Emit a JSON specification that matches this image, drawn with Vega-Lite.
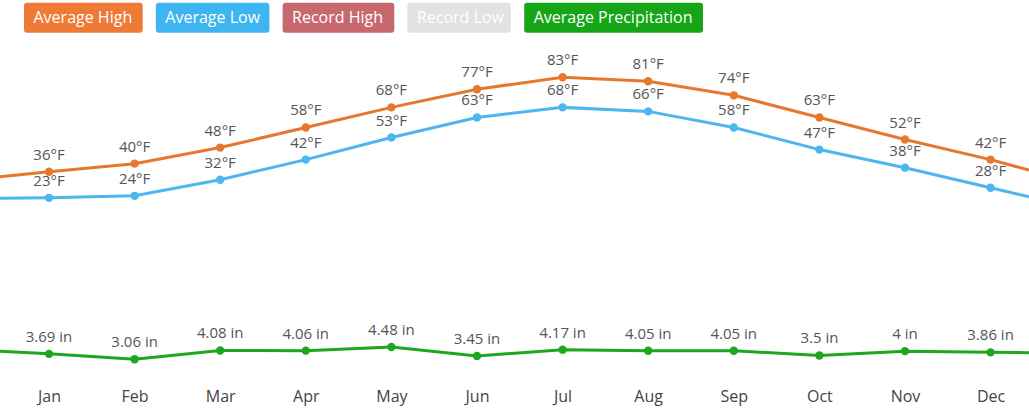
{
  "$schema": "https://vega.github.io/schema/vega-lite/v6.json",
  "width": 1029,
  "height": 375,
  "autosize": {"type": "none"},
  "padding": {"left": 0, "top": 0, "right": 0, "bottom": 38},
  "background": "white",
  "config": {"view": {"stroke": null}, "font": "Open Sans"},
  "datasets": {
    "months": [
      {"m": 0.4276, "high": 33.5, "low": 22.8, "precip": 3.98},
      {"m": 1, "month": "Jan", "high": 36, "low": 23, "precip": 3.69},
      {"m": 2, "month": "Feb", "high": 40, "low": 24, "precip": 3.06},
      {"m": 3, "month": "Mar", "high": 48, "low": 32, "precip": 4.08},
      {"m": 4, "month": "Apr", "high": 58, "low": 42, "precip": 4.06},
      {"m": 5, "month": "May", "high": 68, "low": 53, "precip": 4.48},
      {"m": 6, "month": "Jun", "high": 77, "low": 63, "precip": 3.45},
      {"m": 7, "month": "Jul", "high": 83, "low": 68, "precip": 4.17},
      {"m": 8, "month": "Aug", "high": 81, "low": 66, "precip": 4.05},
      {"m": 9, "month": "Sep", "high": 74, "low": 58, "precip": 4.05},
      {"m": 10, "month": "Oct", "high": 63, "low": 47, "precip": 3.5},
      {"m": 11, "month": "Nov", "high": 52, "low": 38, "precip": 4},
      {"m": 12, "month": "Dec", "high": 42, "low": 28, "precip": 3.86},
      {"m": 12.449, "high": 36.8, "low": 23.5, "precip": 3.82}
    ],
    "series": [
      {"series": "Average High"},
      {"series": "Average Low"},
      {"series": "Record High"},
      {"series": "Record Low"},
      {"series": "Average Precipitation"}
    ]
  },
  "data": {"name": "months"},
  "encoding": {
    "x": {
      "field": "m",
      "type": "quantitative",
      "scale": {"domain": [0.4276, 12.449], "nice": false, "zero": false},
      "axis": {
        "values": [1, 2, 3, 4, 5, 6, 7, 8, 9, 10, 11, 12],
        "labelExpr": "['Jan','Feb','Mar','Apr','May','Jun','Jul','Aug','Sep','Oct','Nov','Dec'][datum.value - 1]",
        "domain": false,
        "ticks": false,
        "tickSize": 0,
        "grid": false,
        "labelPadding": 13,
        "labelFontSize": 16,
        "labelColor": "#444444",
        "labelFont": "Open Sans",
        "labelBaseline": "top",
        "labelFlush": false,
        "labelOverlap": false,
        "title": null
      }
    }
  },
  "layer": [
    {
      "data": {"name": "series"},
      "transform": [{"filter": "false"}],
      "mark": {"type": "point", "filled": true, "opacity": 1},
      "encoding": {
        "color": {
          "field": "series",
          "type": "nominal",
          "scale": {
            "domain": ["Average High", "Average Low", "Record High", "Record Low", "Average Precipitation"],
            "range": ["#EE7A35", "#3DB5F1", "#C7686F", "#E2E2E2", "#16A516"]
          },
          "legend": {
            "orient": "none", "legendX": 24, "legendY": 2.7, "direction": "horizontal", "title": null,
            "symbolSize": 900, "symbolStrokeWidth": 0, "symbolOffset": 0, "labelOffset": -20.5,
            "labelFont": "Open Sans", "labelFontSize": 16, "labelColor": "white", "labelLimit": 400,
            "columnPadding": 12.8, "padding": 0, "symbolOpacity": 1
          }
        },
        "shape": {
          "field": "series",
          "type": "nominal",
          "scale": {
            "domain": ["Average High", "Average Low", "Record High", "Record Low", "Average Precipitation"],
            "range": [
              "M-0.8,-1H6.713Q6.913,-1 6.913,-0.8V0.8Q6.913,1 6.713,1H-0.8Q-1,1 -1,0.8V-0.8Q-1,-1 -0.8,-1Z",
              "M-0.8,-1H6.373Q6.573,-1 6.573,-0.8V0.8Q6.573,1 6.373,1H-0.8Q-1,1 -1,0.8V-0.8Q-1,-1 -0.8,-1Z",
              "M-0.8,-1H6.247Q6.447,-1 6.447,-0.8V0.8Q6.447,1 6.247,1H-0.8Q-1,1 -1,0.8V-0.8Q-1,-1 -0.8,-1Z",
              "M-0.8,-1H5.693Q5.893,-1 5.893,-0.8V0.8Q5.893,1 5.693,1H-0.8Q-1,1 -1,0.8V-0.8Q-1,-1 -0.8,-1Z",
              "M-0.8,-1H10.72Q10.92,-1 10.92,-0.8V0.8Q10.92,1 10.72,1H-0.8Q-1,1 -1,0.8V-0.8Q-1,-1 -0.8,-1Z"
            ]
          },
          "legend": {
            "orient": "none", "legendX": 24, "legendY": 2.7, "direction": "horizontal", "title": null,
            "symbolSize": 900, "symbolStrokeWidth": 0, "symbolOffset": 0, "labelOffset": -20.5,
            "labelFont": "Open Sans", "labelFontSize": 16, "labelColor": "white", "labelLimit": 400,
            "columnPadding": 12.8, "padding": 0, "symbolOpacity": 1
          }
        }
      }
    },
    {
      "mark": {"type": "line", "color": "#4DB6EF", "strokeWidth": 3, "clip": true},
      "encoding": {"y": {"field": "low", "type": "quantitative", "scale": {"domain": [-65.14, 121.42], "nice": false, "zero": false}, "axis": null}}
    },
    {
      "mark": {"type": "line", "color": "#E8772E", "strokeWidth": 3, "clip": true},
      "encoding": {"y": {"field": "high", "type": "quantitative", "scale": {"domain": [-65.14, 121.42], "nice": false, "zero": false}, "axis": null}}
    },
    {
      "mark": {"type": "line", "color": "#1EA61E", "strokeWidth": 3, "clip": true},
      "encoding": {"y": {"field": "precip", "type": "quantitative", "scale": {"domain": [1.247, 44.55], "nice": false, "zero": false}, "axis": null}}
    },
    {
      "transform": [{"filter": "isValid(datum.month)"}],
      "mark": {"type": "point", "filled": true, "opacity": 1, "size": 70, "color": "#4DB6EF"},
      "encoding": {"y": {"field": "low", "type": "quantitative", "scale": {"domain": [-65.14, 121.42], "nice": false, "zero": false}, "axis": null}}
    },
    {
      "transform": [{"filter": "isValid(datum.month)"}],
      "mark": {"type": "point", "filled": true, "opacity": 1, "size": 70, "color": "#E8772E"},
      "encoding": {"y": {"field": "high", "type": "quantitative", "scale": {"domain": [-65.14, 121.42], "nice": false, "zero": false}, "axis": null}}
    },
    {
      "transform": [{"filter": "isValid(datum.month)"}],
      "mark": {"type": "point", "filled": true, "opacity": 1, "size": 70, "color": "#1EA61E"},
      "encoding": {"y": {"field": "precip", "type": "quantitative", "scale": {"domain": [1.247, 44.55], "nice": false, "zero": false}, "axis": null}}
    },
    {
      "transform": [{"filter": "isValid(datum.month)"}, {"calculate": "datum.low + '°F'", "as": "label"}],
      "mark": {"type": "text", "dy": -17, "fontSize": 15, "font": "Open Sans", "color": "#555555"},
      "encoding": {
        "y": {"field": "low", "type": "quantitative", "scale": {"domain": [-65.14, 121.42], "nice": false, "zero": false}, "axis": null},
        "text": {"field": "label", "type": "nominal"}
      }
    },
    {
      "transform": [{"filter": "isValid(datum.month)"}, {"calculate": "datum.high + '°F'", "as": "label"}],
      "mark": {"type": "text", "dy": -17, "fontSize": 15, "font": "Open Sans", "color": "#555555"},
      "encoding": {
        "y": {"field": "high", "type": "quantitative", "scale": {"domain": [-65.14, 121.42], "nice": false, "zero": false}, "axis": null},
        "text": {"field": "label", "type": "nominal"}
      }
    },
    {
      "transform": [{"filter": "isValid(datum.month)"}, {"calculate": "datum.precip + ' in'", "as": "label"}],
      "mark": {"type": "text", "dy": -17, "fontSize": 15, "font": "Open Sans", "color": "#555555"},
      "encoding": {
        "y": {"field": "precip", "type": "quantitative", "scale": {"domain": [1.247, 44.55], "nice": false, "zero": false}, "axis": null},
        "text": {"field": "label", "type": "nominal"}
      }
    }
  ],
  "resolve": {"scale": {"y": "independent"}}
}
